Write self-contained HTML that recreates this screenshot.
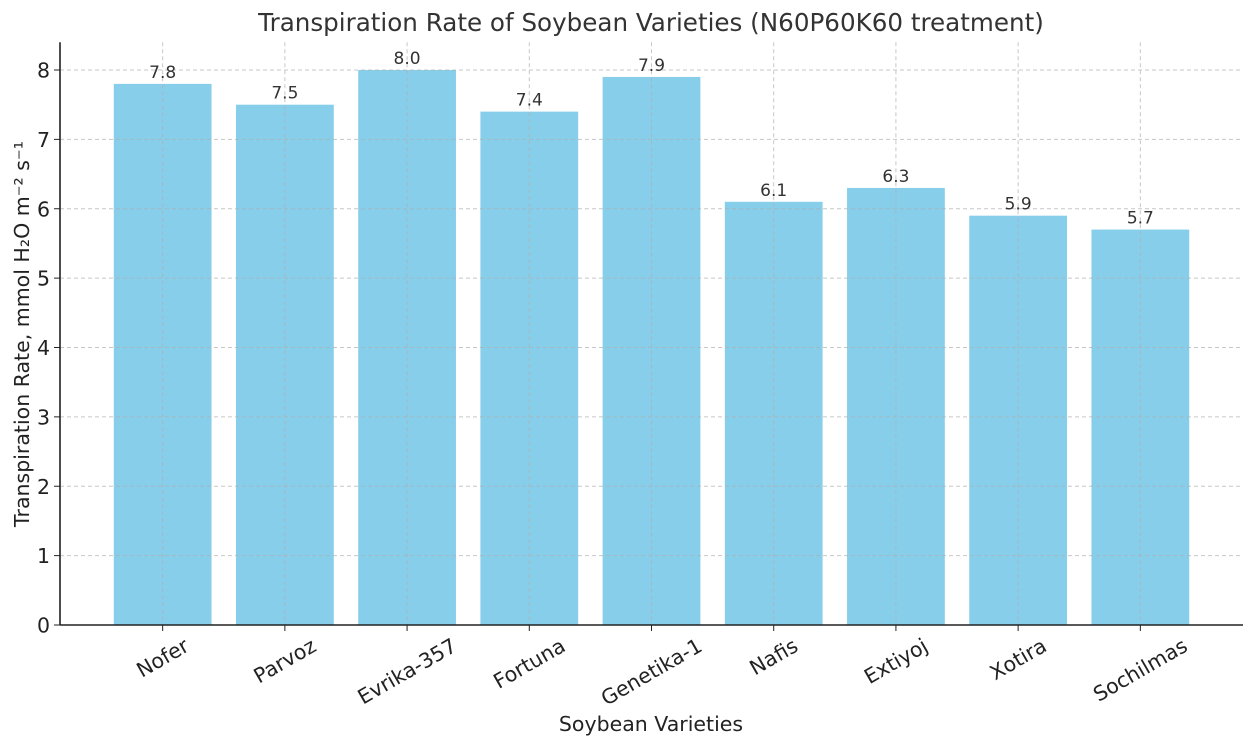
<!DOCTYPE html>
<html><head><meta charset="utf-8"><style>
body{margin:0;background:#fff}
svg{font-family:"DejaVu Sans","Liberation Sans",sans-serif}
</style></head><body>
<svg id="c" width="1255" height="748" xmlns="http://www.w3.org/2000/svg"></svg>
<script>
const categories=["Nofer","Parvoz","Evrika-357","Fortuna","Genetika-1","Nafis","Extiyoj","Xotira","Sochilmas"];
const values=[7.8,7.5,8.0,7.4,7.9,6.1,6.3,5.9,5.7];
const yTicks=[0,1,2,3,4,5,6,7,8];
const L=60,R=1243,B=625,T=42.25;
const xmin=-0.84,xmax=categories.length-1+0.84,ymax=8.4;
const x=i=>L+(i-xmin)/(xmax-xmin)*(R-L);
const y=v=>B-v/ymax*(B-T);
const NS="http://www.w3.org/2000/svg";
const svg=document.getElementById('c');
function mk(t,a,p){const e=document.createElementNS(NS,t);for(const k in a)e.setAttribute(k,a[k]);(p||svg).appendChild(e);return e;}
const bw=(x(0.8)-x(0));
const bars=mk('g',{});
values.forEach((v,i)=>{const r=mk('rect',{x:x(i)-bw/2,y:y(v),width:bw,height:B-y(v),fill:'#87CEEB'},bars);

});
const grid=mk('g',{stroke:'#b0b0b0','stroke-width':1,'stroke-dasharray':'4,3',opacity:0.7});

yTicks.forEach(t=>mk('line',{x1:L,x2:R,y1:y(t),y2:y(t)},grid));
categories.forEach((c,i)=>mk('line',{x1:x(i),x2:x(i),y1:T,y2:B},grid));
values.forEach((v,i)=>{const t=mk('text',{x:x(i),y:y(v)-6,'text-anchor':'middle','font-size':17,fill:'#333'});t.textContent=v.toFixed(1);
});
mk('line',{x1:L,x2:L,y1:T,y2:B,stroke:'#222','stroke-width':1.6});
mk('line',{x1:L,x2:R,y1:B,y2:B,stroke:'#222','stroke-width':1.6});
yTicks.forEach(t=>{mk('line',{x1:L-6,x2:L,y1:y(t),y2:y(t),stroke:'#222'});
const e=mk('text',{x:L-10,y:y(t)+7.5,'text-anchor':'end','font-size':20.5,fill:'#222'});e.textContent=t;
});
categories.forEach((c,i)=>{mk('line',{x1:x(i),x2:x(i),y1:B,y2:B+6,stroke:'#222'});
const e=mk('text',{'text-anchor':'middle','font-size':20.5,fill:'#222'});e.textContent=c;

const w=e.getComputedTextLength(),h=20.5;
const rh=w*0.5+h*0.866;const cy=635+rh/2;
e.setAttribute('x',x(i));e.setAttribute('y',cy+7);
e.setAttribute('transform','rotate(-30 '+x(i)+' '+cy+')');});
let t=mk('text',{x:651,y:31,'text-anchor':'middle','font-size':24.6,fill:'#333'});t.textContent='Transpiration Rate of Soybean Varieties (N60P60K60 treatment)';

t=mk('text',{x:651,y:731,'text-anchor':'middle','font-size':20.5,fill:'#222'});t.textContent='Soybean Varieties';

t=mk('text',{x:29,y:334,'text-anchor':'middle','font-size':20.5,fill:'#222',transform:'rotate(-90 29 334)'});t.textContent='Transpiration Rate, mmol H₂O m⁻² s⁻¹';

</script>
</body></html>
